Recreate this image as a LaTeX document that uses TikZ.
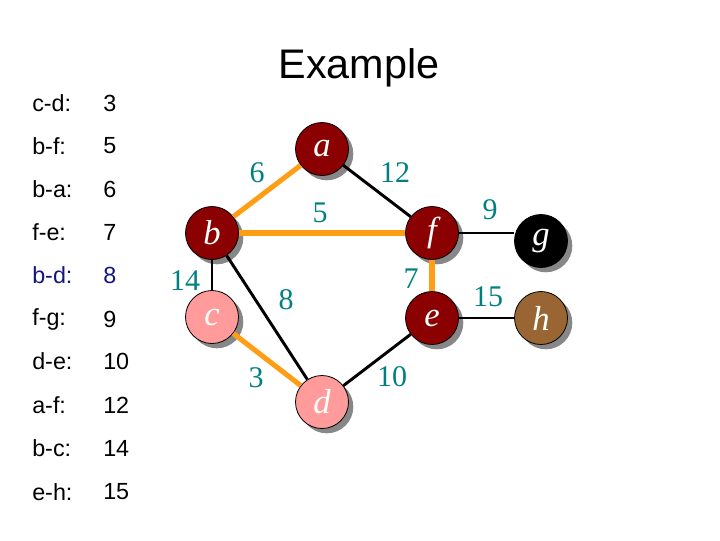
\documentclass[tikz,border=0pt]{standalone}
\usepackage{fontspec}
\setmainfont{Liberation Serif}
\newfontfamily\arialfont{Liberation Sans}
\usetikzlibrary{shadows}
\definecolor{dred}{RGB}{139,0,0}
\definecolor{pinkn}{RGB}{255,155,155}
\definecolor{brownn}{RGB}{153,102,51}
\definecolor{orangee}{RGB}{255,158,20}
\definecolor{tealt}{RGB}{0,128,128}
\definecolor{navyt}{RGB}{20,20,130}
\definecolor{shadowc}{RGB}{135,135,135}
\tikzset{
  vtx/.style={circle, draw=black, line width=0.6pt, minimum size=39.75pt, inner sep=0pt,
    text=white, font=\fontsize{26}{26}\selectfont\itshape,
    general shadow={fill=shadowc, shadow xshift=3.6pt, shadow yshift=-3.6pt}},
  tree/.style={draw=orangee, line width=3.8pt},
  plain/.style={draw=black, line width=2.2pt},
  wt/.style={text=tealt, font=\fontsize{22.5}{22.5}\selectfont, inner sep=0pt},
  lst/.style={anchor=west, font=\arialfont\fontsize{17.5}{17.5}\selectfont, inner sep=0pt},
}
\begin{document}
\begin{tikzpicture}[x=0.75pt, y=-0.75pt]
\useasboundingbox (0,0) rectangle (720,540);
\node[font=\arialfont\fontsize{31}{31}\selectfont, inner sep=0pt] (title) at (359,68) {Example};

% list
\foreach \y/\l/\v/\n in {103/c-d:/3/r1, 146/b-f:/5/r2, 189/b-a:/6/r3, 232/f-e:/7/r4, 319/f-g:/9/r6, 361/d-e:/10/r7, 405/a-f:/12/r8, 448/b-c:/14/r9, 492/e-h:/15/r10}{
  \node[lst] (\n l) at (32,\y) {\l};
  \node[lst] (\n v) at (103,\y) {\v};
}
\node[lst, text=navyt] (r5l) at (32,275) {b-d:};
\node[lst, text=navyt] (r5v) at (103,275) {8};

% vertices
\node[vtx, fill=dred] (a) at (322,149) {a};
\node[vtx, fill=dred] (b) at (212,233) {b};
\node[vtx, fill=dred] (f) at (432,233) {f};
\node[vtx, fill=pinkn] (c) at (212,317) {c};
\node[vtx, fill=dred] (e) at (432,318) {e};
\node[vtx, fill=pinkn] (d) at (322,402) {d};
\node[vtx, fill=black] (g) at (541,241) {g};
\node[vtx, fill=brownn] (h) at (541,318) {h};

% edges
\draw[tree] (a) -- (b);
\draw[plain] (a) -- (f);
\draw[tree] (b) -- (f);
\draw[plain] (b) -- (c);
\draw[plain] (b) -- (d);
\draw[tree] (f) -- (e);
\draw[tree] (c) -- (d);
\draw[plain] (d) -- (e);
\draw[plain] (f.east) -- (f.east -| g.west);
\draw[plain] (e) -- (h);

% weights
\node[wt] (w6) at (257,173) {6};
\node[wt] (w12) at (395,173) {12};
\node[wt] (w5) at (320,213) {5};
\node[wt] (w9) at (490,210) {9};
\node[wt] (w14) at (185,281) {14};
\node[wt] (w7) at (411,279) {7};
\node[wt] (w8) at (286,300) {8};
\node[wt] (w15) at (488,297) {15};
\node[wt] (w3) at (256,378) {3};
\node[wt] (w10) at (392,377) {10};
\end{tikzpicture}
\end{document}
